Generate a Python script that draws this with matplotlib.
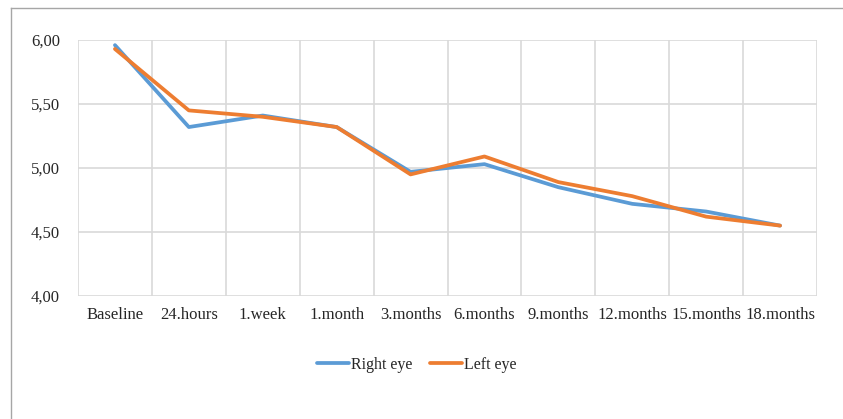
import matplotlib
matplotlib.use("Agg")
import matplotlib.pyplot as plt
from matplotlib.lines import Line2D
from matplotlib.ticker import FixedLocator, FuncFormatter

categories = ["Baseline", "24.hours", "1.week", "1.month", "3.months",
              "6.months", "9.months", "12.months", "15.months", "18.months"]
right_eye = [5.96, 5.32, 5.41, 5.32, 4.97, 5.03, 4.85, 4.72, 4.66, 4.55]
left_eye = [5.93, 5.45, 5.40, 5.32, 4.95, 5.09, 4.89, 4.78, 4.62, 4.55]
y_ticks = [4.0, 4.5, 5.0, 5.5, 6.0]

BLUE = "#5B9BD5"
ORANGE = "#ED7D31"
GRID = "#D9D9D9"
TEXT = "#262626"

plt.rcParams["font.family"] = ["Liberation Serif", "DejaVu Serif"]

W, H = 843, 419
fig = plt.figure(figsize=(W / 100, H / 100), dpi=100)
ax = fig.add_axes([78 / W, 1 - 296 / H, (817 - 78) / W, (296 - 40) / H])

x = list(range(len(categories)))
ax.plot(x, right_eye, color=BLUE, lw=2.7, solid_capstyle="round",
        solid_joinstyle="round", label="Right eye", zorder=3)
ax.plot(x, left_eye, color=ORANGE, lw=2.7, solid_capstyle="round",
        solid_joinstyle="round", label="Left eye", zorder=4)

ax.set_xlim(-0.5, len(categories) - 0.5)
ax.set_ylim(4.0, 6.0)
ax.set_xticks(x)
ax.set_xticklabels(categories)
ax.xaxis.set_minor_locator(FixedLocator([i - 0.5 for i in range(len(categories) + 1)]))
ax.set_yticks(y_ticks)
ax.yaxis.set_major_formatter(FuncFormatter(lambda v, p: f"{v:.2f}".replace(".", ",")))

ax.grid(True, axis="y", which="major", color=GRID, lw=1.2)
ax.grid(True, axis="x", which="minor", color=GRID, lw=1.2)
ax.grid(False, axis="x", which="major")
ax.set_axisbelow(True)
for s in ax.spines.values():
    s.set_visible(False)
ax.tick_params(axis="both", which="both", length=0, labelsize=12, colors=TEXT)
ax.tick_params(axis="x", pad=8)
ax.tick_params(axis="y", pad=13)

leg = fig.legend(handles=[Line2D([], [], color=BLUE, lw=2.7, solid_capstyle="round"),
                          Line2D([], [], color=ORANGE, lw=2.7, solid_capstyle="round")],
                 labels=["Right eye", "Left eye"], loc="center",
                 bbox_to_anchor=(417 / W, 1 - 365 / H), ncol=2, frameon=False,
                 fontsize=11.5, handlelength=2.0, handletextpad=0.12,
                 columnspacing=1.1)
for t in leg.get_texts():
    t.set_color(TEXT)

# open outer frame (top and left edges)
fig.add_artist(Line2D([10.5 / W, 1.0], [1 - 8.5 / H, 1 - 8.5 / H],
                      transform=fig.transFigure, color="#A6A6A6", lw=1.0))
fig.add_artist(Line2D([10.5 / W, 10.5 / W], [0.0, 1 - 8.5 / H],
                      transform=fig.transFigure, color="#A6A6A6", lw=1.0))

fig.savefig("out.png", dpi=100)
